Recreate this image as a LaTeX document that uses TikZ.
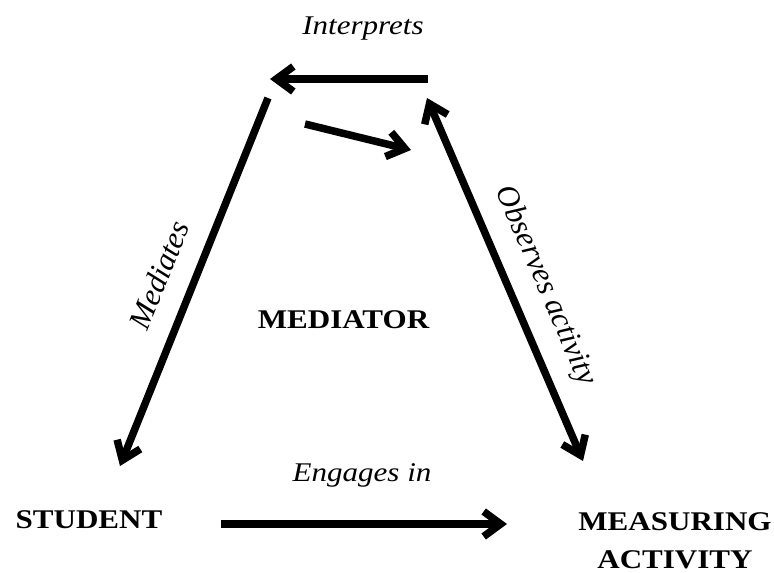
\documentclass[tikz,border=0pt]{standalone}
\usepackage{fontspec}
\setmainfont{Liberation Serif}
\usetikzlibrary{arrows.meta}
\tikzset{
  tip/.style={Straight Barb[length=17pt,width=25pt]},
  arr/.style={line width=7.5pt, -{Straight Barb[length=17pt,width=25pt]}},
  darr/.style={line width=7.5pt, {Straight Barb[length=17pt,width=25pt]}-{Straight Barb[length=17pt,width=25pt]}},
  lbl/.style={font=\fontsize{27}{38}\selectfont\itshape, inner sep=0pt},
  rlbl/.style={font=\fontsize{31}{38}\selectfont\itshape, inner sep=0pt},
  box/.style={font=\fontsize{27}{38}\selectfont\bfseries, inner sep=0pt, align=center},
}
\newcommand{\wide}[1]{\scalebox{1.15}[1]{#1}}
\begin{document}
\begin{tikzpicture}[x=1pt,y=-1pt]
\path[use as bounding box, fill=white] (0,0) rectangle (774,573);
% labels
\node[lbl, anchor=base] (interp) at (363,34) {\wide{Interprets}};
\node[lbl, anchor=base] (engage) at (362,481) {\wide{Engages in}};
\node[box, anchor=base] (mediator) at (343.5,328) {\wide{MEDIATOR}};
\node[box, anchor=base] (student) at (89,528) {\wide{STUDENT}};
\node[box, anchor=base] (measuring) at (675,568) {\wide{MEASURING}\\[0pt]\wide{ACTIVITY}};
\node[rlbl, rotate=68.1] (mediates) at (159,275) {Mediates};
\node[rlbl, rotate=-66.7] (observes) at (545,286) {Observes activity};
% arrow end points
\coordinate (i1) at (428,79);
\coordinate (i2) at (270,79);
\coordinate (m1) at (268,98);
\coordinate (m2) at (120,466);
\coordinate (s1) at (305,124);
\coordinate (s2) at (411,150);
\coordinate (o1) at (427,98);
\coordinate (o2) at (583,461);
\coordinate (e1) at (221,524);
\coordinate (e2) at (507,524);
\draw[arr] (i1) -- (i2);
\draw[arr] (m1) -- (m2);
\draw[arr] (s1) -- (s2);
\draw[darr] (o1) -- (o2);
\draw[arr] (e1) -- (e2);
\end{tikzpicture}
\end{document}
